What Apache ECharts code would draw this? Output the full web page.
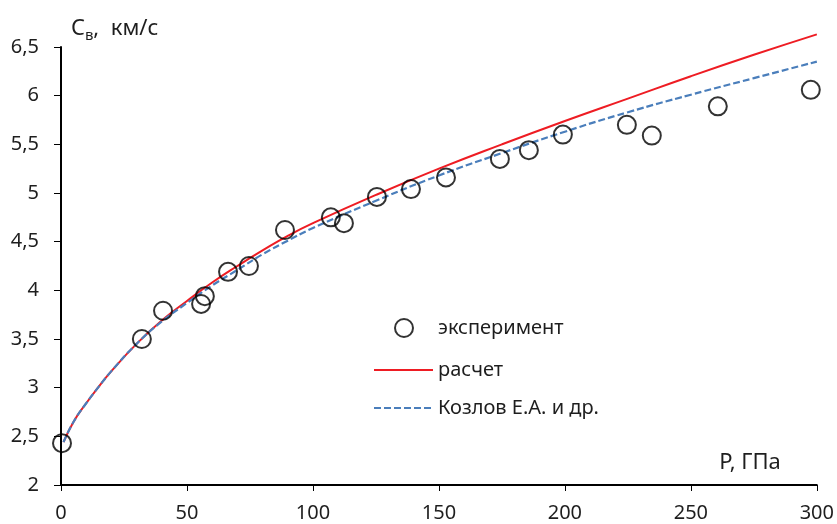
<!DOCTYPE html>
<html>
<head>
<meta charset="utf-8">
<script src="https://cdn.jsdelivr.net/npm/echarts@6/dist/echarts.min.js"></script>
<style>html,body{margin:0;padding:0;background:#fff}#c{width:837px;height:524px}</style>
</head>
<body>
<div id="c"></div>
<script>
// Experimental points: P, GPa and Cв, km/s
const expP = [0.4, 32.1, 40.5, 55.6, 57.1, 66.3, 74.6, 88.9, 107.1, 112.3, 125.4, 138.9, 152.8, 174.2, 185.7, 199.2, 224.6, 234.5, 260.7, 297.6];
const expC = [2.43, 3.50, 3.79, 3.86, 3.94, 4.19, 4.25, 4.62, 4.75, 4.69, 4.96, 5.04, 5.16, 5.35, 5.44, 5.60, 5.70, 5.59, 5.89, 6.06];

// Curves
const curveP  = [1, 5, 10, 15, 20, 30, 40, 50, 60, 70, 80, 90, 100, 125, 150, 175, 200, 225, 250, 275, 300];
const calcC   = [2.44, 2.65, 2.84, 3.01, 3.17, 3.45, 3.69, 3.89, 4.08, 4.25, 4.41, 4.56, 4.69, 4.98, 5.25, 5.50, 5.74, 5.97, 6.20, 6.42, 6.63];
const kozlovC = [2.44, 2.65, 2.84, 3.01, 3.17, 3.45, 3.68, 3.87, 4.05, 4.21, 4.37, 4.51, 4.64, 4.92, 5.18, 5.41, 5.63, 5.83, 6.01, 6.18, 6.35];

const names = ['эксперимент', 'расчет', 'Козлов Е.А. и др.'];
const xTicks = {min: 0, max: 300, interval: 50};
const yTicks = {min: 2, max: 6.5, interval: 0.5};

const FONT = 'Noto Sans';
const TXT = '#1e1e1e';
const FS = 20;
const NFS = 22;

const chart = echarts.init(document.getElementById('c'), null, {renderer: 'canvas'});
const zip = (a, b) => a.map((v, i) => [v, b[i]]);

const legendBase = {
  orient: 'vertical', itemHeight: 18, itemGap: 0, padding: 0,
  textStyle: {fontFamily: FONT, fontSize: FS, color: TXT},
  selectedMode: false
};

chart.setOption({
  animation: false,
  backgroundColor: '#fff',
  grid: {left: 61, right: 20, top: 47, bottom: 39},
  legend: [
    Object.assign({}, legendBase, {left: 394, top: 318, itemWidth: 18,
      textStyle: {fontFamily: FONT, fontSize: FS, color: TXT, padding: [0, 0, 0, 20]},
      data: [names[0]]}),
    Object.assign({}, legendBase, {left: 373, top: 360, itemWidth: 59,
      itemStyle: {opacity: 0}, data: [names[1]]}),
    Object.assign({}, legendBase, {left: 373, top: 398, itemWidth: 59,
      itemStyle: {opacity: 0}, data: [names[2]]})
  ],
  xAxis: {
    type: 'value', min: xTicks.min, max: xTicks.max, interval: xTicks.interval,
    name: 'P, ГПа', nameLocation: 'end', nameGap: -36,
    nameTextStyle: {fontFamily: FONT, fontSize: NFS, color: TXT, align: 'right', verticalAlign: 'bottom', lineHeight: 26, padding: [0, 0, 9, 0]},
    axisLine: {show: true, onZero: false, lineStyle: {color: '#000', width: 2}},
    axisTick: {show: true, length: 6, lineStyle: {color: '#000', width: 1}},
    axisLabel: {fontFamily: FONT, fontSize: FS, color: TXT, margin: 18},
    splitLine: {show: false}
  },
  yAxis: {
    type: 'value', min: yTicks.min, max: yTicks.max, interval: yTicks.interval,
    name: '{a|C}{b|в}{a|,  км/с}', nameLocation: 'end', nameGap: 4,
    nameTextStyle: {
      align: 'left', padding: [0, 0, 0, 10],
      rich: {
        a: {fontFamily: FONT, fontSize: NFS, color: TXT, lineHeight: 28},
        b: {fontFamily: FONT, fontSize: 15, color: TXT, lineHeight: 28, padding: [13, 0, 0, 0]}
      }
    },
    axisLine: {show: true, onZero: false, lineStyle: {color: '#000', width: 2}},
    axisTick: {show: true, length: 7, lineStyle: {color: '#000', width: 1}},
    axisLabel: {fontFamily: FONT, fontSize: FS, color: TXT, margin: 22,
      formatter: v => String(v).replace('.', ',')},
    splitLine: {show: false}
  },
  series: [
    {
      name: names[1], type: 'line', data: zip(curveP, calcC), smooth: 0.5, clip: false,
      symbol: 'none', lineStyle: {color: '#ee1c23', width: 2}, itemStyle: {color: '#ee1c23'}, z: 2
    },
    {
      name: names[2], type: 'line', data: zip(curveP, kozlovC), smooth: 0.5, clip: false,
      symbol: 'none', lineStyle: {color: '#4a7ebb', width: 2.2, type: [7, 3]}, itemStyle: {color: '#4a7ebb'}, z: 3
    },
    {
      name: names[0], type: 'scatter', data: zip(expP, expC), clip: false,
      symbol: 'circle', symbolSize: 18,
      itemStyle: {color: 'rgba(0,0,0,0)', borderColor: '#000', borderWidth: 2}, z: 4
    }
  ]
});
</script>
</body>
</html>
